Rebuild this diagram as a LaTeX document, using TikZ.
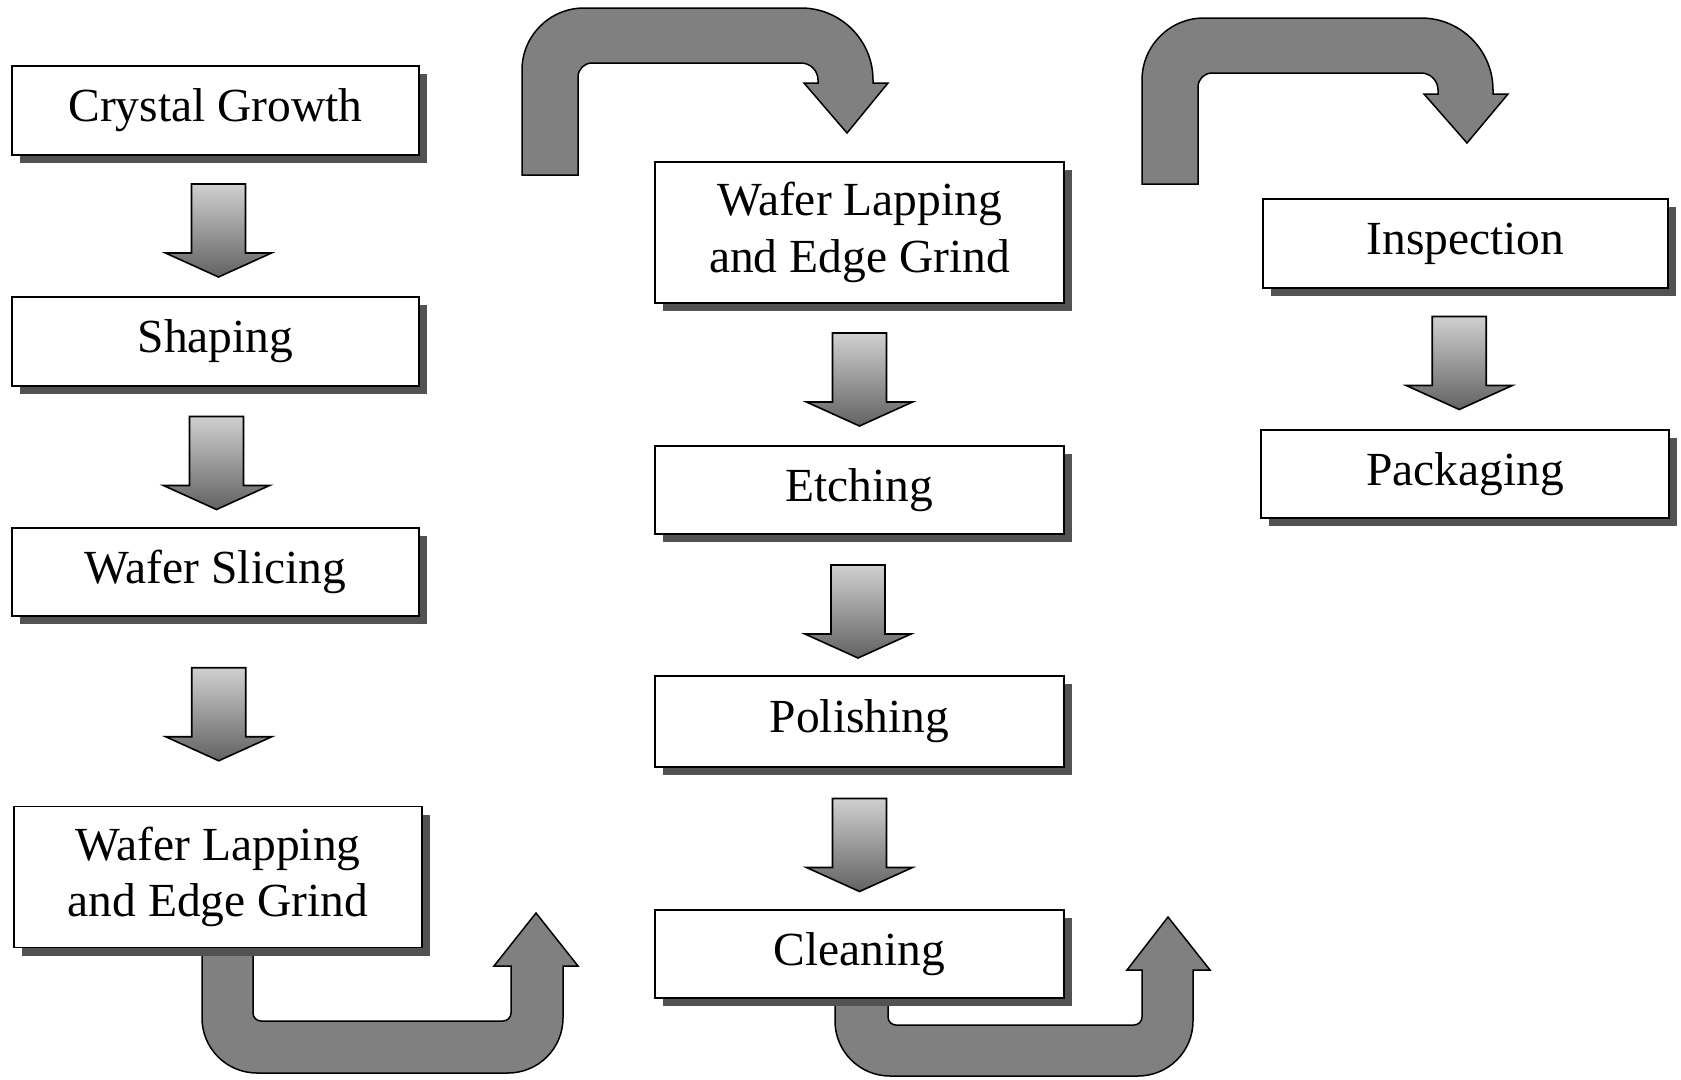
\documentclass[tikz,border=0pt]{standalone}
\usepackage{fontspec}
\setmainfont{Liberation Serif}
\usetikzlibrary{calc,shadows}
\begin{document}
\begin{tikzpicture}[x=1pt,y=-1pt,
  stepbox/.style={draw=black, line width=1.8pt, fill=white, inner sep=0pt,
    align=center, font=\fontsize{47.5}{56.5}\selectfont,
    drop shadow={shadow xshift=8pt, shadow yshift=-8pt, fill=black!68, opacity=1}},
  uarrow/.style={draw=black, line width=1.5pt, fill={rgb,255:red,128;green,128;blue,128}, line join=miter},
  dnarrow/.pic={
    \draw[line width=1.6pt, line join=miter,
      top color={rgb,255:red,208;green,208;blue,208},
      bottom color={rgb,255:red,98;green,98;blue,98}]
      (-27,-46.5) -- (27,-46.5) -- (27,22.5) -- (53,22.5) -- (0,46.5)
      -- (-53,22.5) -- (-27,22.5) -- cycle;
  }
]
\useasboundingbox (0,0) rectangle (1681,1079);

% big U-turn arrows (behind the boxes)
\draw[uarrow] (202,900) -- (202,1018) arc(180:90:55) -- (508,1073) arc(90:0:55)
  -- (563,966) -- (578,966) -- (536,913) -- (494,966) -- (511,966)
  -- (511,1013) arc(0:90:8) -- (261,1021) arc(90:180:8) -- (253,900) -- cycle;

\draw[uarrow] (835,950) -- (835,1021) arc(180:90:55) -- (1138,1076) arc(90:0:55)
  -- (1193,970) -- (1210,970) -- (1168,917) -- (1127,970) -- (1142,970)
  -- (1142,1017) arc(0:90:8) -- (896,1025) arc(90:180:8) -- (888,950) -- cycle;

\draw[uarrow] (522,175) -- (522,70) arc(180:270:62) -- (801,8) arc(270:360:72)
  -- (873,83) -- (888,83) -- (847,133) -- (804,83) -- (818,83)
  -- (818,80) arc(0:-90:17) -- (592,63) arc(270:180:14) -- (578,175) -- cycle;

\draw[uarrow] (1142,184) -- (1142,80) arc(180:270:62) -- (1421,18) arc(270:360:72)
  -- (1493,94) -- (1508,94) -- (1467,143) -- (1424,94) -- (1438,94)
  -- (1438,90) arc(0:-90:17) -- (1212,73) arc(270:180:14) -- (1198,184) -- cycle;

% process boxes
\node[stepbox, minimum width=407pt, minimum height=89pt] (cg) at (215.5,110.5) {Crystal Growth};
\node[stepbox, minimum width=407pt, minimum height=89pt] (sh) at (215.5,341.5) {Shaping};
\node[stepbox, minimum width=407pt, minimum height=88pt] (ws) at (215.5,572) {Wafer Slicing};
\node[stepbox, minimum width=408pt, minimum height=141pt] (wl1) at (218,877) {Wafer Lapping\\and Edge Grind};

\node[stepbox, minimum width=409pt, minimum height=141pt] (wl2) at (859.5,232.5) {Wafer Lapping\\and Edge Grind};
\node[stepbox, minimum width=409pt, minimum height=88pt] (et) at (859.5,490) {Etching};
\node[stepbox, minimum width=409pt, minimum height=91pt] (po) at (859.5,721.5) {Polishing};
\node[stepbox, minimum width=409pt, minimum height=88pt] (cl) at (859.5,954) {Cleaning};

\node[stepbox, minimum width=405pt, minimum height=89pt] (in) at (1465.5,243.5) {Inspection};
\node[stepbox, minimum width=408pt, minimum height=88pt] (pk) at (1465,474) {Packaging};

% block arrows between boxes
\pic at ($(cg.south)!0.5!(sh.north)+(3,4.5)$) {dnarrow};
\pic at ($(sh.south)!0.5!(ws.north)+(1,6)$) {dnarrow};
\pic at ($(ws.south)!0.5!(wl1.north)+(2,3)$) {dnarrow};
\pic at ($(wl2.south)!0.5!(et.north)+(0,5)$) {dnarrow};
\pic at ($(et.south)!0.5!(po.north)+(-1.5,6.5)$) {dnarrow};
\pic at ($(po.south)!0.5!(cl.north)+(0,6.5)$) {dnarrow};
\pic at ($(in.south)!0.5!(pk.north)+(-6,4)$) {dnarrow};
\end{tikzpicture}
\end{document}
